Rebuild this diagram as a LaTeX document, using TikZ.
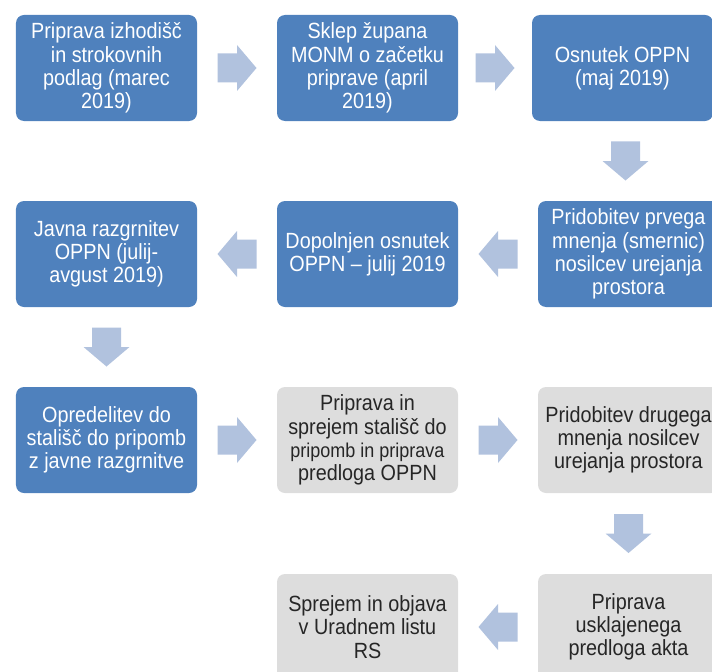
\documentclass[tikz,border=0pt]{standalone}
\usepackage{fontspec}
\setmainfont{Liberation Sans}[FakeStretch=0.9]
\usepackage{tikz}
\usetikzlibrary{
  calc
}
\definecolor{stepblue}{HTML}{4F81BD}
\definecolor{stepgray}{HTML}{DDDDDD}
\definecolor{arrowblue}{HTML}{B1C2DE}
\definecolor{graytext}{HTML}{262626}

\tikzstyle{stepbox}=[rounded corners=8bp, minimum width=181bp, minimum height=106bp,
  align=center, font=\fontsize{22bp}{23.3bp}\selectfont, inner sep=0pt]
\tikzstyle{donebox}=[stepbox, fill=stepblue, text=white]
\tikzstyle{todobox}=[stepbox, fill=stepgray, text=graytext]
\tikzset{
  flowarrow/.pic={
    \fill[arrowblue] (-19.5bp,-14.5bp) -- (0bp,-14.5bp) -- (0bp,-23bp) -- (19.5bp,0bp)
      -- (0bp,23bp) -- (0bp,14.5bp) -- (-19.5bp,14.5bp) -- cycle;
  }
}

\begin{document}
\begin{tikzpicture}[x=1bp, y=-1bp]
    \def\colA{106.5};
    \def\colB{367.5};
    \def\colC{628.5};
    \def\rowA{68};
    \def\rowB{254};
    \def\rowC{440};
    \def\rowD{627};

    \useasboundingbox (0,0) rectangle (712,672);
    \begin{scope}
      \clip (0,0) rectangle (712,672);

      % 1. vrstica
      \node[donebox] (izhodisca) at (\colA,\rowA) {Priprava izhodišč\\in strokovnih\\podlag (marec\\2019)};
      \node[donebox] (sklep) at (\colB,\rowA) {Sklep župana\\MONM o začetku\\priprave (april\\2019)};
      \node[donebox] (osnutek) at (622.5,\rowA) {Osnutek OPPN\\(maj 2019)};

      % 2. vrstica
      \node[donebox] (smernice) at (\colC,\rowB) {Pridobitev prvega\\mnenja (smernic)\\nosilcev urejanja\\prostora};
      \node[donebox] (dopolnjen) at (\colB,\rowB) {Dopolnjen osnutek\\OPPN – julij 2019};
      \node[donebox] (razgrnitev) at (\colA,\rowB) {Javna razgrnitev\\OPPN (julij-\\avgust 2019)};

      % 3. vrstica
      \node[donebox] (opredelitev) at (\colA,\rowC) {Opredelitev do\\stališč do pripomb\\z javne razgrnitve};
      \node[todobox] (stalisca) at (\colB,\rowC) {Priprava in\\sprejem stališč do\\{\fontsize{20bp}{23.3bp}\selectfont pripomb in priprava}\\predloga OPPN};
      \node[todobox] (mnenje) at (\colC,\rowC) {Pridobitev drugega\\mnenja nosilcev\\urejanja prostora};

      % 4. vrstica
      \node[todobox] (usklajen) at (\colC,\rowD) {Priprava\\usklajenega\\predloga akta};
      \node[todobox] (objava) at (\colB,\rowD) {Sprejem in objava\\v Uradnem listu\\RS};

      % puščice med koraki
      \pic at ($(izhodisca.east)!0.5!(sklep.west)$) {flowarrow};
      \pic at ($(sklep.east)!0.5!(osnutek.west)$) {flowarrow};
      \pic[rotate=-90] at ($(osnutek.south)!0.5!(smernice.north)$) {flowarrow};
      \pic[rotate=180] at ($(smernice.west)!0.5!(dopolnjen.east)$) {flowarrow};
      \pic[rotate=180] at ($(dopolnjen.west)!0.5!(razgrnitev.east)$) {flowarrow};
      \pic[rotate=-90] at ($(razgrnitev.south)!0.5!(opredelitev.north)$) {flowarrow};
      \pic at ($(opredelitev.east)!0.5!(stalisca.west)$) {flowarrow};
      \pic at ($(stalisca.east)!0.5!(mnenje.west)$) {flowarrow};
      \pic[rotate=-90] at ($(mnenje.south)!0.5!(usklajen.north)$) {flowarrow};
      \pic[rotate=180] at ($(usklajen.west)!0.5!(objava.east)$) {flowarrow};
    \end{scope}
\end{tikzpicture}
\end{document}
